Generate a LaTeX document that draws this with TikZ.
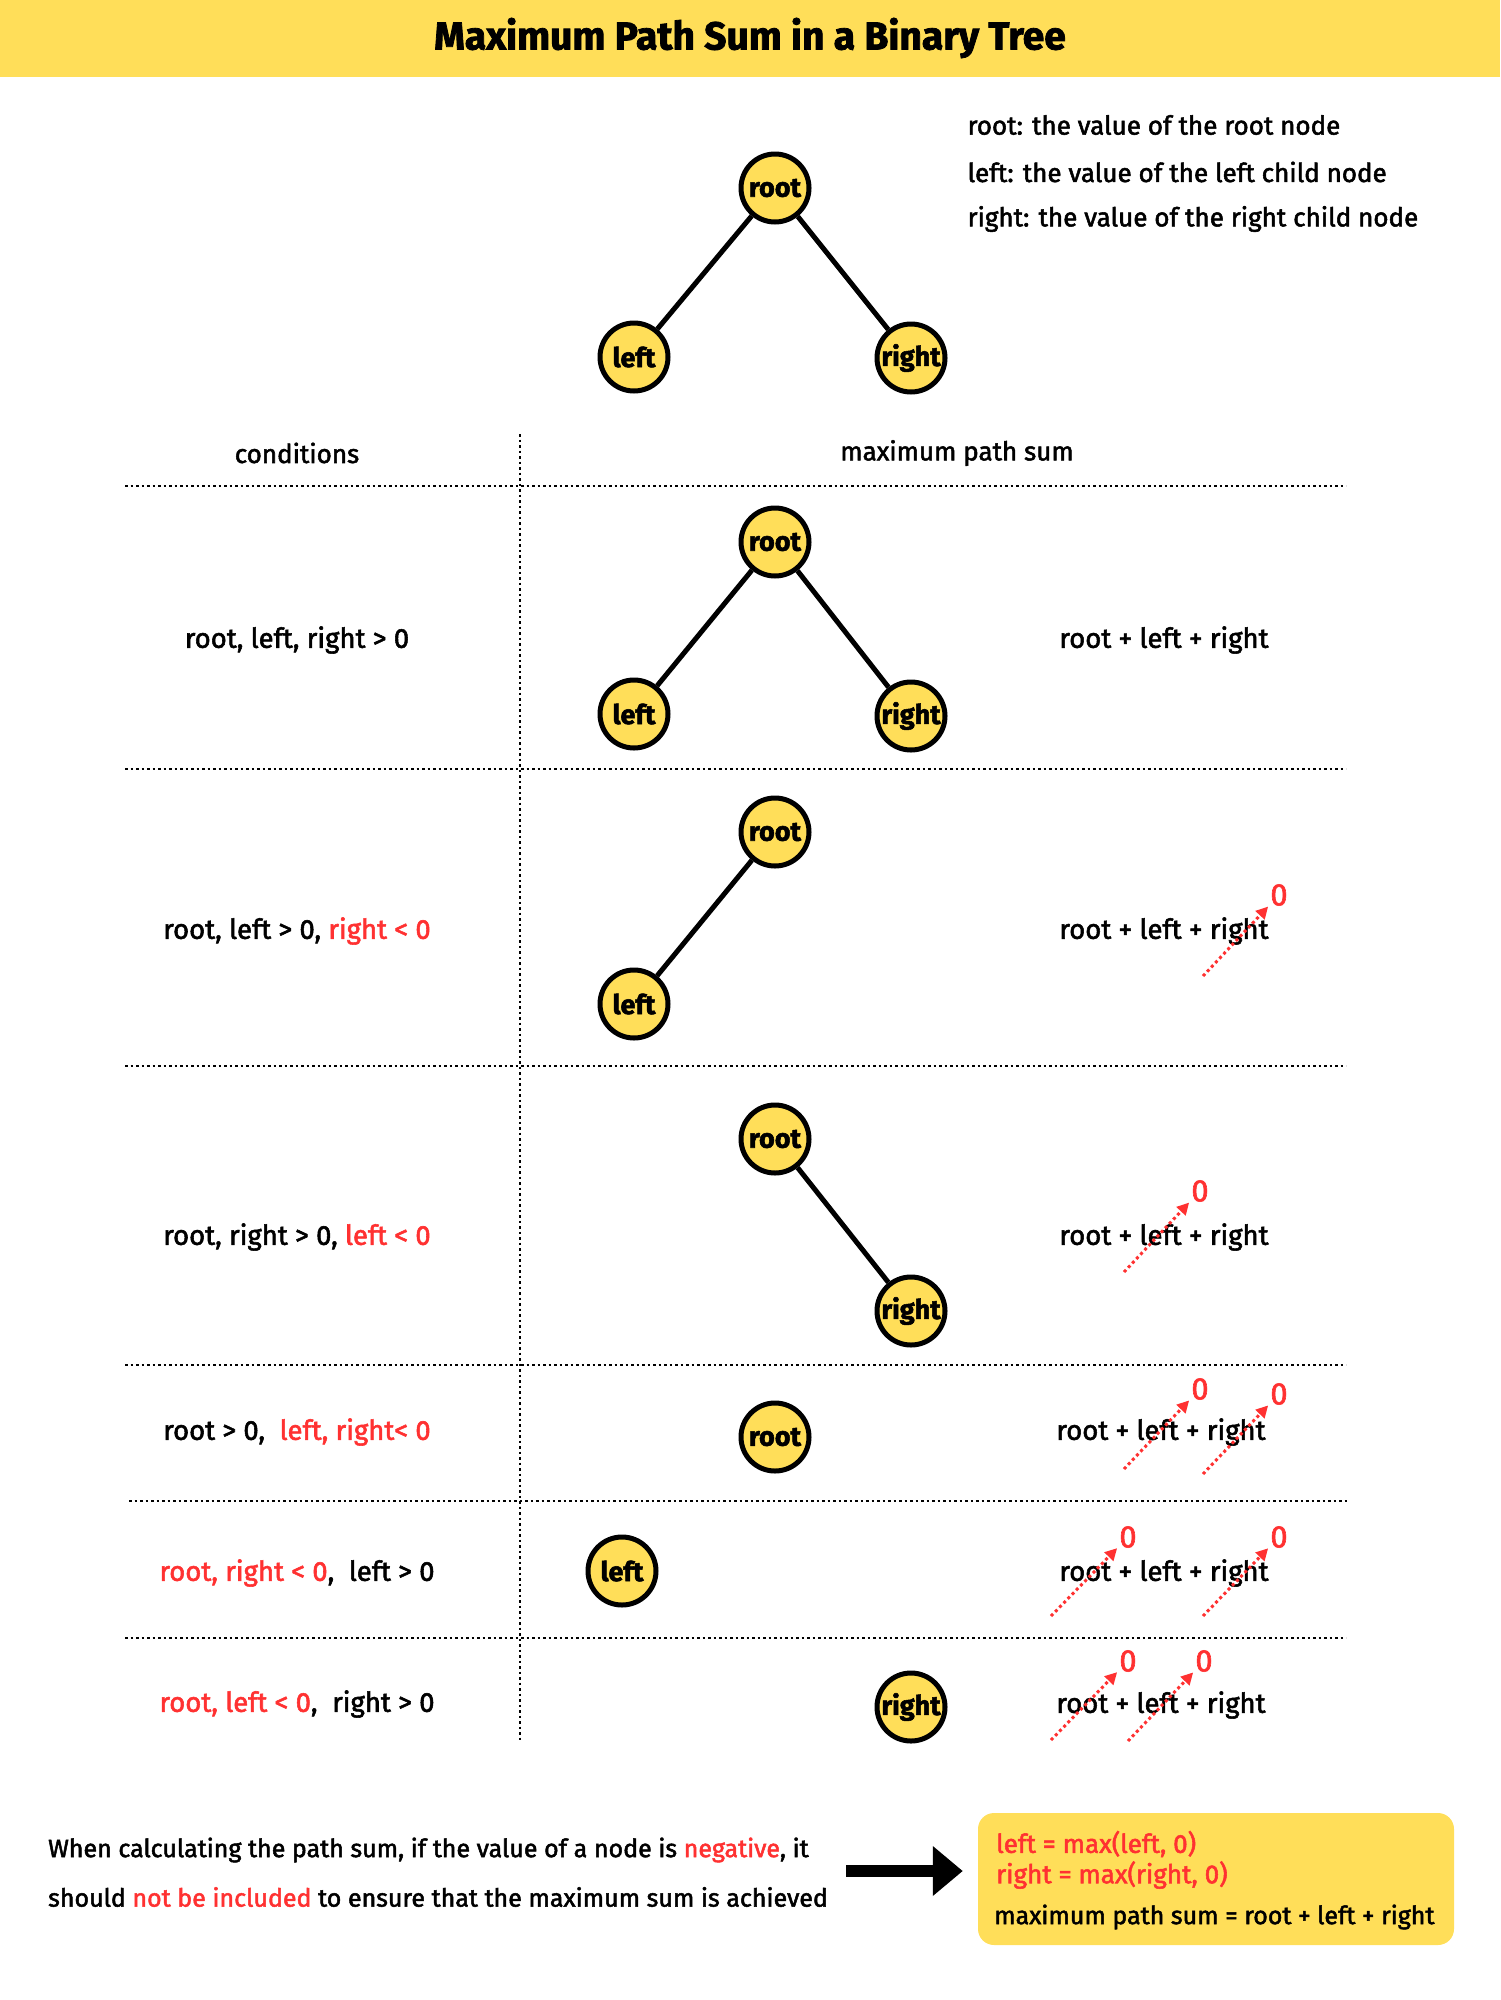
\documentclass[tikz,border=0pt]{standalone}
\usepackage{fontspec}
\setmainfont{Fira Sans}[FakeBold=2]
\usepackage{tikz}
\usetikzlibrary{arrows.meta}
\definecolor{bgyellow}{RGB}{255,222,89}
\definecolor{hlred}{RGB}{255,49,49}

\begin{document}
\begin{tikzpicture}[x=1pt, y=-1pt,
	treenode/.style={circle, draw=black, line width=5pt, fill=bgyellow, minimum size=68pt, inner sep=0pt, font=\fontsize{27}{30}\selectfont\bfseries},
	link/.style={line width=5pt},
	txt/.style={font=\fontsize{26}{30}\selectfont},
	rowtxt/.style={font=\fontsize{27.5}{30}\selectfont},
	note/.style={font=\fontsize{25}{28}\selectfont, anchor=west, inner sep=0pt},
	boxtxt/.style={font=\fontsize{25}{28}\selectfont, anchor=west, inner sep=0pt},
	zero/.style={hlred, font=\fontsize{31}{34}\selectfont, inner sep=2pt},
	nullarrow/.style={hlred, line width=3pt, dash pattern=on 3pt off 3pt, -{Triangle[length=12pt,width=12pt]}},
	sep/.style={line width=2.5pt, dash pattern=on 2.5pt off 3pt}]

	\useasboundingbox (0,0) rectangle (1500,2000);

	% title bar
	\fill[bgyellow] (0,0) rectangle (1500,77);
	\node[font=\fontsize{39}{42}\selectfont\bfseries] (title) at (750,38) {Maximum Path Sum in a Binary Tree};

	% legend tree
	\node[treenode] (root) at (775,188) {root};
	\node[treenode] (left) at (634,357) {left};
	\node[treenode] (right) at (911,358) {right};
	\draw[link] (root) -- (left);
	\draw[link] (root) -- (right);

	\node[txt, anchor=west] (keyroot) at (964,125) {root: the value of the root node};
	\node[txt, anchor=west] (keyleft) at (964,172) {left: the value of the left child node};
	\node[txt, anchor=west] (keyright) at (964,219) {right: the value of the right child node};

	% table
	\draw[sep] (520,434) -- (520,1741);
	\foreach \y in {486,769,1066,1365,1638}
		\draw[sep] (125,\y) -- (1346,\y);
	\draw[sep] (129,1501) -- (1349,1501);

	\node[txt] (hcond) at (297,453) {conditions};
	\node[txt] (hsum) at (957,453) {maximum path sum};

	% row 1
	\node[rowtxt] (cond1) at (297,640) {root, left, right > 0};
	\node[treenode] (r1root) at (775,542) {root};
	\node[treenode] (r1left) at (634,714) {left};
	\node[treenode] (r1right) at (911,716) {right};
	\draw[link] (r1root) -- (r1left);
	\draw[link] (r1root) -- (r1right);
	\node[rowtxt] (sum1) at (1164,640) {root + left + right};

	% row 2
	\node[rowtxt] (cond2) at (297,931) {root, left > 0, \textcolor{hlred}{right < 0}};
	\node[treenode] (r2root) at (775,832) {root};
	\node[treenode] (r2left) at (634,1004) {left};
	\draw[link] (r2root) -- (r2left);
	\node[rowtxt] (sum2) at (1164,931) {root + left + right};
	\node[zero] (z2right) at (1279,895) {0};
	\coordinate (s2right) at (1203,976);
	\draw[nullarrow] (s2right) -- (z2right);

	% row 3
	\node[rowtxt] (cond3) at (297,1237) {root, right > 0, \textcolor{hlred}{left < 0}};
	\node[treenode] (r3root) at (775,1139) {root};
	\node[treenode] (r3right) at (911,1311) {right};
	\draw[link] (r3root) -- (r3right);
	\node[rowtxt] (sum3) at (1164,1237) {root + left + right};
	\node[zero] (z3left) at (1200,1191) {0};
	\coordinate (s3left) at (1124,1272);
	\draw[nullarrow] (s3left) -- (z3left);

	% row 4
	\node[rowtxt] (cond4) at (297,1432) {root > 0,\ \ \textcolor{hlred}{left, right< 0}};
	\node[treenode] (r4root) at (775,1437) {root};
	\node[rowtxt] (sum4) at (1161,1432) {root + left + right};
	\node[zero] (z4left) at (1200,1389) {0};
	\coordinate (s4left) at (1124,1469);
	\draw[nullarrow] (s4left) -- (z4left);
	\node[zero] (z4right) at (1279,1394) {0};
	\coordinate (s4right) at (1203,1474);
	\draw[nullarrow] (s4right) -- (z4right);

	% row 5
	\node[rowtxt] (cond5) at (297,1573) {\textcolor{hlred}{root, right < 0},\ \ left > 0};
	\node[treenode] (r5left) at (622,1571) {left};
	\node[rowtxt] (sum5) at (1164,1573) {root + left + right};
	\node[zero] (z5root) at (1128,1537) {0};
	\coordinate (s5root) at (1051,1616);
	\draw[nullarrow] (s5root) -- (z5root);
	\node[zero] (z5right) at (1279,1537) {0};
	\coordinate (s5right) at (1203,1616);
	\draw[nullarrow] (s5right) -- (z5right);

	% row 6
	\node[rowtxt] (cond6) at (297,1704) {\textcolor{hlred}{root, left < 0},\ \ right > 0};
	\node[treenode] (r6right) at (911,1707) {right};
	\node[rowtxt] (sum6) at (1161,1705) {root + left + right};
	\node[zero] (z6root) at (1128,1661) {0};
	\coordinate (s6root) at (1051,1740);
	\draw[nullarrow] (s6root) -- (z6root);
	\node[zero] (z6left) at (1204,1661) {0};
	\coordinate (s6left) at (1128,1741);
	\draw[nullarrow] (s6left) -- (z6left);

	% conclusion
	\node[note] (note1) at (48,1850) {When calculating the path sum, if the value of a node is \textcolor{hlred}{negative}, it};
	\node[note] (note2) at (48,1897) {should \textcolor{hlred}{not be included} to ensure that the maximum sum is achieved};

	\node[fill=bgyellow, rounded corners=16pt, minimum width=476pt, minimum height=132pt] (box) at (1216,1879) {};
	\node[boxtxt, hlred, font=\fontsize{26}{28}\selectfont] (eqleft) at (996,1844) {left = max(left, 0)};
	\node[boxtxt, hlred, font=\fontsize{26}{28}\selectfont] (eqright) at (996,1875) {right = max(right, 0)};
	\node[boxtxt] (eqsum) at (994,1917) {maximum path sum = root + left + right};

	\coordinate (arrowstart) at (846,1871);
	\draw[line width=12pt, -{Triangle[length=30pt,width=48pt]}, shorten >=15pt] (arrowstart) -- (arrowstart -| box.west);

\end{tikzpicture}
\end{document}
